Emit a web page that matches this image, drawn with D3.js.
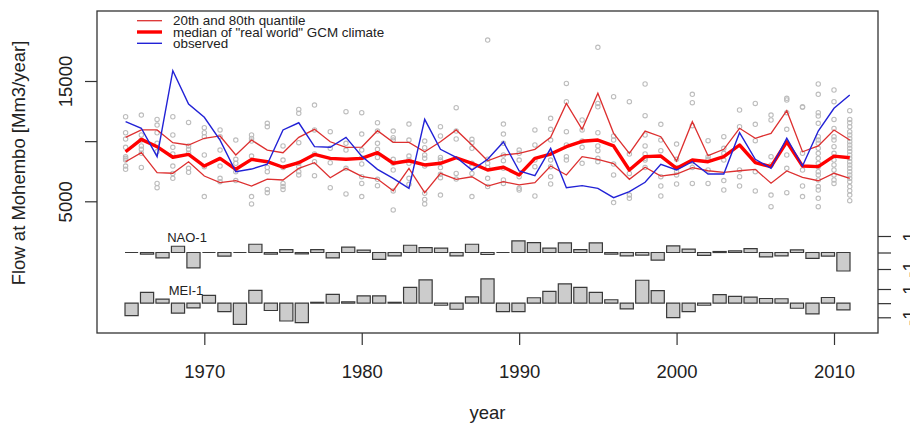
<!DOCTYPE html>
<html>
<head>
<meta charset="utf-8">
<script src="https://cdn.jsdelivr.net/npm/d3@7"></script>
<style>
    html, body { margin: 0; padding: 0; background: #fff; }
    svg { display: block; font-family: "Liberation Sans", Arial, Helvetica, sans-serif; }
</style>
</head>
<body>
<svg id="chart" width="910" height="427"></svg>
<script>
const years = [1965, 1966, 1967, 1968, 1969, 1970, 1971, 1972, 1973, 1974, 1975, 1976, 1977, 1978, 1979,
    1980, 1981, 1982, 1983, 1984, 1985, 1986, 1987, 1988, 1989, 1990, 1991, 1992, 1993, 1994, 1995,
    1996, 1997, 1998, 1999, 2000, 2001, 2002, 2003, 2004, 2005, 2006, 2007, 2008, 2009, 2010, 2011];

// flow at Mohembo, Mm3/year
const observed = [11620, 11070, 8710, 15860, 13090, 11980, 10090, 7460, 7680, 8080,
    10930, 11530, 9540, 9490, 10320, 8750, 7660, 6910, 6080, 11810,
    9320, 8660, 7600, 8490, 9930, 7520, 7130, 9400, 6130, 6300,
    6080, 5300, 5800, 6580, 8080, 7600, 8290, 7270, 7270, 10700,
    8490, 7740, 10240, 7930, 10840, 12730, 13830];
const median = [9120, 10150, 9540, 8660, 8900, 7930, 8570, 7660, 8490, 8290,
    7830, 8210, 8900, 8570, 8490, 8570, 9040, 8160, 8370, 8020,
    8160, 8620, 8160, 7600, 7830, 7190, 8570, 8930, 9540, 9990,
    10090, 9600, 7600, 8710, 8760, 7740, 8430, 8290, 8710, 9680,
    8210, 7880, 9950, 7930, 7880, 8760, 8620];
const q80 = [10320, 10930, 10930, 9870, 9680, 10240, 10430, 8850, 10090, 9260,
    9040, 10320, 10980, 9950, 9480, 9510, 10870, 9900, 9900, 9120,
    9950, 10930, 9680, 8370, 8850, 8990, 9320, 10320, 13140, 10980,
    13980, 10650, 8990, 10840, 10370, 8350, 11620, 8790, 9320, 11070,
    10240, 10650, 12530, 9120, 9600, 10930, 10090];
const q20 = [8290, 9040, 7380, 7330, 8290, 7100, 6550, 6710, 6270, 6850,
    6770, 7740, 8210, 6960, 7740, 7070, 6850, 5880, 7740, 5720,
    7330, 6830, 7040, 6270, 6630, 6360, 6550, 7930, 7190, 8710,
    8490, 8130, 6830, 7830, 7100, 7270, 7790, 7540, 7410, 7540,
    7660, 6500, 7520, 6990, 6710, 7330, 6910];

// GCM runs, one list per year
const gcmRuns = [
    [12030, 10700, 10180, 9490, 8710, 8570, 8430, 7930, 7660],
    [12170, 10510, 10090, 9600, 9320, 8990, 7820],
    [11810, 11340, 10700, 9820, 9130, 6490, 6130],
    [12030, 10510, 9490, 8930, 7930, 7320, 6910],
    [11560, 9600, 9320, 8990, 7740, 7410],
    [11120, 10700, 10370, 8850, 7880, 5390],
    [10930, 10370, 9260, 7930, 6910, 6630],
    [10090, 8490, 8160, 7460, 6720],
    [10510, 10230, 10010, 8760, 5390, 4780],
    [11480, 11200, 7820, 7460, 5990, 5720],
    [9600, 8430, 7800, 6490, 6220, 5990],
    [12640, 12310, 9870, 8160, 7880, 7460, 7190],
    [13000, 10930, 8930, 8290, 7130],
    [10790, 9400, 8210, 6130],
    [12450, 9820, 9260, 7740, 5610],
    [12370, 10590, 9260, 8630, 8100, 7050, 6490, 5390],
    [11530, 10840, 9820, 9320, 8650, 6830, 6300],
    [10840, 10290, 10090, 8490, 8160, 7600, 5860, 4280],
    [11420, 10090, 8760, 8430, 8160, 6910, 6410],
    [10010, 9460, 8850, 8570, 7930, 5660, 5160, 4780],
    [11200, 10430, 8650, 8430, 7800, 7240, 6960, 5520],
    [12780, 10840, 10180, 7320, 6850],
    [10150, 9870, 9400, 8160, 7880, 7320, 5390],
    [18400, 8490, 8160, 7820, 6910, 6220],
    [11420, 10590, 9820, 8850, 8380, 7740, 6770, 6490],
    [9260, 8990, 8430, 7050, 6080, 5940],
    [10930, 9680, 8430, 7880, 5440],
    [11900, 10980, 10090, 8990, 8430, 7880, 7050, 6440],
    [14800, 13280, 10790, 9680, 8710, 8430],
    [11760, 10930, 10010, 9490, 8160],
    [17800, 13140, 12860, 10700, 9600, 9210, 8570, 8290],
    [13700, 10430, 10090, 8100, 7190, 4890],
    [13280, 8930, 7320, 5520, 5250],
    [14750, 12120, 10510, 9600, 8930, 8570, 8430, 7820],
    [11400, 10090, 9210, 7050, 6270, 5440],
    [9760, 8490, 7820, 7460, 7190, 6440],
    [13890, 13200, 11290, 8290, 7820, 6490],
    [10040, 8710, 8490, 7600, 6490],
    [10370, 9400, 8990, 8430, 6720, 5940],
    [12590, 11200, 7600, 7050, 6270],
    [13140, 11400, 10040, 7460, 5860],
    [12170, 11760, 8710, 8020, 5520, 4550],
    [13560, 13420, 12370, 10980, 8850, 7740, 5720],
    [12860, 12810, 8990, 7600, 6270, 5390],
    [14750, 13890, 12370, 12090, 11480, 10370, 10090, 9820, 9400, 8990, 8570, 8160, 7880, 7460, 7190, 6770, 6220, 5940, 5250, 4550],
    [14250, 13280, 11810, 11060, 10370, 10090, 9540, 8990, 8430, 8020, 7600, 7190, 6770, 6490],
    [12530, 11810, 11530, 11200, 10790, 10510, 10230, 9960, 9680, 9400, 9130, 8850, 8570, 8290, 8020, 7740, 7460, 7190, 6910, 6630, 6220, 5880, 5520, 5050]
];

// climate indices of the previous year
const nao = [0, -0.1, -0.32, 0.38, -0.93, 0, -0.22, 0, 0.5, -0.1,
    0.18, -0.08, 0.18, -0.32, 0.32, 0.14, -0.42, -0.2, 0.44, 0.3,
    0.26, -0.2, 0.5, -0.12, 0, 0.7, 0.6, 0.26, 0.58, 0.18,
    0.58, -0.1, -0.2, -0.16, -0.46, 0.4, 0.2, -0.18, 0.06, 0.1,
    0.24, -0.26, -0.2, 0.16, -0.36, -0.22, -1.12];
const mei = [-0.88, 0.76, 0.29, -0.71, -0.33, 0.55, -0.6, -1.5, 0.9, -0.52,
    -1.26, -1.38, 0.06, 0.62, 0.1, 0.52, 0.52, 0.06, 1.12, 1.64,
    -0.15, -0.43, 0.45, 1.71, -0.6, -0.6, 0.38, 0.83, 1.36, 1.12,
    0.76, 0.24, -0.4, 1.62, 0.88, -1.02, -0.6, -0.15, 0.6, 0.48,
    0.43, 0.33, 0.31, -0.36, -0.76, 0.4, -0.48];

const xTicks = [1970, 1980, 1990, 2000, 2010];
const yTicks = [5000, 10000, 15000];
const yTickLabels = ["5000", "", "15000"];
const indexTicks = [-1, 0, 1];
const indexTickLabels = ["-1", "", "1"];
const legendLabels = ["20th and 80th quantile", "median of \"real world\" GCM climate", "observed"];

const svg = d3.select("#chart");
const box = { left: 97, top: 11, right: 878, bottom: 333 };
const ink = "#222";

const x = d3.scaleLinear().domain([1965, 2010]).range([125.6, 834]);
const y = d3.scaleLinear().domain([5000, 15000]).range([201.3, 81]);
const yNao = d3.scaleLinear().domain([-1, 1]).range([269, 236]);
const yMei = d3.scaleLinear().domain([-1, 1]).range([317.3, 289]);
const xBar = d3.scaleBand().domain(years).range([125, 850]).paddingInner(0.15).paddingOuter(0);

// ensemble points
const pts = years.flatMap((yr, i) => gcmRuns[i].map(v => ({ yr, v })));
svg.append("g")
    .selectAll("circle")
    .data(pts)
    .join("circle")
    .attr("cx", d => x(d.yr))
    .attr("cy", d => y(d.v))
    .attr("r", 2.2)
    .attr("fill", "none")
    .attr("stroke", "#bdbdbd")
    .attr("stroke-width", 1.1);

const line = d3.line().x((d, i) => x(years[i])).y(d => y(d));

svg.append("path").datum(q80).attr("d", line)
    .attr("fill", "none").attr("stroke", "#dd3030").attr("stroke-width", 1.3);
svg.append("path").datum(q20).attr("d", line)
    .attr("fill", "none").attr("stroke", "#dd3030").attr("stroke-width", 1.3);
svg.append("path").datum(median).attr("d", line)
    .attr("fill", "none").attr("stroke", "#ff0000").attr("stroke-width", 3.4).attr("stroke-linejoin", "round");
svg.append("path").datum(observed).attr("d", line)
    .attr("fill", "none").attr("stroke", "#2222d6").attr("stroke-width", 1.4);

// index bars, drawn as paths so zero-height bars still show as a line
function drawBars(values, scale) {
    svg.append("g")
        .selectAll("path")
        .data(values)
        .join("path")
        .attr("d", (d, i) => {
            const x0 = xBar(years[i]), x1 = x0 + xBar.bandwidth();
            return `M${x0},${scale(0)}H${x1}V${scale(d)}H${x0}Z`;
        })
        .attr("fill", "#cccccc")
        .attr("stroke", "#3a3a3a")
        .attr("stroke-width", 1.2);
}
drawBars(nao, yNao);
drawBars(mei, yMei);

svg.append("text").attr("x", 187).attr("y", 241.5).attr("text-anchor", "middle")
    .attr("font-size", "13px").attr("fill", ink).text("NAO-1");
svg.append("text").attr("x", 186).attr("y", 294.5).attr("text-anchor", "middle")
    .attr("font-size", "13px").attr("fill", ink).text("MEI-1");

// frame
svg.append("rect")
    .attr("x", box.left).attr("y", box.top)
    .attr("width", box.right - box.left).attr("height", box.bottom - box.top)
    .attr("fill", "none").attr("stroke", "#333").attr("stroke-width", 1.3);

// axes
const styleAxis = g => {
    g.select(".domain").remove();
    g.selectAll("line").attr("stroke", "#333").attr("stroke-width", 1.2);
    g.selectAll("text").attr("fill", ink).attr("font-size", "18.5px").attr("font-family", null);
};

svg.append("g")
    .attr("transform", `translate(0,${box.bottom})`)
    .call(d3.axisBottom(x).tickValues(xTicks).tickFormat(d3.format("d")).tickSize(12))
    .call(styleAxis)
    .call(g => g.selectAll("text").attr("y", 45).attr("dy", null));

svg.append("g")
    .attr("transform", `translate(${box.left},0)`)
    .call(d3.axisLeft(y).tickValues(yTicks).tickFormat((d, i) => yTickLabels[i]).tickSize(12))
    .call(styleAxis)
    .call(g => g.selectAll("text")
        .attr("x", null).attr("dy", null)
        .attr("text-anchor", "middle")
        .attr("transform", "translate(-25,0) rotate(-90)"));

[yNao, yMei].forEach(scale => {
    svg.append("g")
        .attr("transform", `translate(${box.right},0)`)
        .call(d3.axisRight(scale).tickValues(indexTicks).tickFormat((d, i) => indexTickLabels[i]).tickSize(13))
        .call(styleAxis)
        .call(g => g.selectAll("text")
            .attr("x", null).attr("dy", null)
            .attr("text-anchor", "middle")
            .attr("transform", "translate(38,0) rotate(-90)"));
});

// axis titles
svg.append("text")
    .attr("transform", "translate(24.5,163) rotate(-90)")
    .attr("text-anchor", "middle")
    .attr("font-size", "18.5px")
    .attr("fill", ink)
    .text("Flow at Mohembo [Mm3/year]");

svg.append("text")
    .attr("x", (box.left + box.right) / 2)
    .attr("y", 419)
    .attr("text-anchor", "middle")
    .attr("font-size", "18.5px")
    .attr("fill", ink)
    .text("year");

// legend
const legendStyles = [
    { stroke: "#dd3030", width: 1.3 },
    { stroke: "#ff0000", width: 3.4 },
    { stroke: "#2222d6", width: 1.4 }
];
const legend = svg.append("g");
legendLabels.forEach((label, i) => {
    const ly = 20.7 + i * 11.3;
    legend.append("line")
        .attr("x1", 137).attr("x2", 162).attr("y1", ly).attr("y2", ly)
        .attr("stroke", legendStyles[i].stroke).attr("stroke-width", legendStyles[i].width);
    legend.append("text")
        .attr("x", 173).attr("y", ly + 4.6)
        .attr("font-size", "13.4px")
        .attr("fill", ink)
        .text(label);
});
</script>
</body>
</html>
